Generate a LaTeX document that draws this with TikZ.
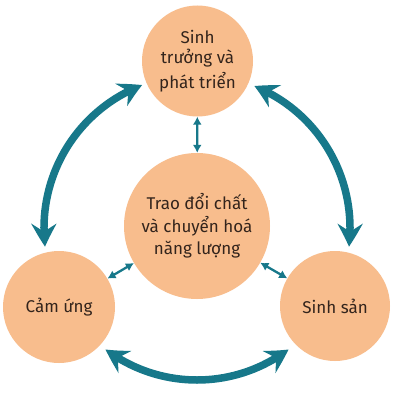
\documentclass[tikz,border=0pt]{standalone}
\usepackage{fontspec}
\setmainfont{Fira Sans}
\usetikzlibrary{arrows.meta,bending}
\definecolor{peach}{HTML}{F8BD8D}
\definecolor{tealc}{HTML}{17788A}
\definecolor{txt}{HTML}{33241C}
\begin{document}
\begin{tikzpicture}[x=1pt,y=1pt,
  circ/.style={circle,fill=peach,inner sep=0pt,minimum size=#1,text=txt,align=center,font=\fontsize{17}{22.5}\selectfont},
  big/.style={tealc,line width=7.5pt,{Stealth[length=23pt,width=25pt,inset=8pt,bend]}-{Stealth[length=23pt,width=25pt,inset=8pt,bend]}},
  small/.style={tealc,line width=2.3pt,{Latex[length=8pt,width=9pt]}-{Latex[length=8pt,width=9pt]}}]
\fill[white] (0,0) rectangle (401,400);
\useasboundingbox (0,0) rectangle (401,400);
\node[circ=111pt] (top) at (197.5,339) {\raisebox{3pt}{\shortstack{Sinh\\[2pt]trưởng và\\[2pt]phát triển}}};
\node[circ=146pt] (mid) at (197,174) {Trao đổi chất\\và chuyển hoá\\năng lượng};
\node[circ=112pt] (left) at (59,93) {Cảm ứng};
\node[circ=110pt] (right) at (335,94) {Sinh sản};
\coordinate (C) at (197,172);
\draw[big] ([shift={(111:153pt)}]C) arc[start angle=111,end angle=187,radius=153pt];
\draw[big] ([shift={(68:153pt)}]C) arc[start angle=68,end angle=-7,radius=153pt];
\draw[big] ([shift={(233:152pt)}]C) arc[start angle=233,end angle=307,radius=152pt];
\draw[small] (top) -- (mid);
\draw[small] (left) -- (mid);
\draw[small] (right) -- (mid);
\end{tikzpicture}
\end{document}
